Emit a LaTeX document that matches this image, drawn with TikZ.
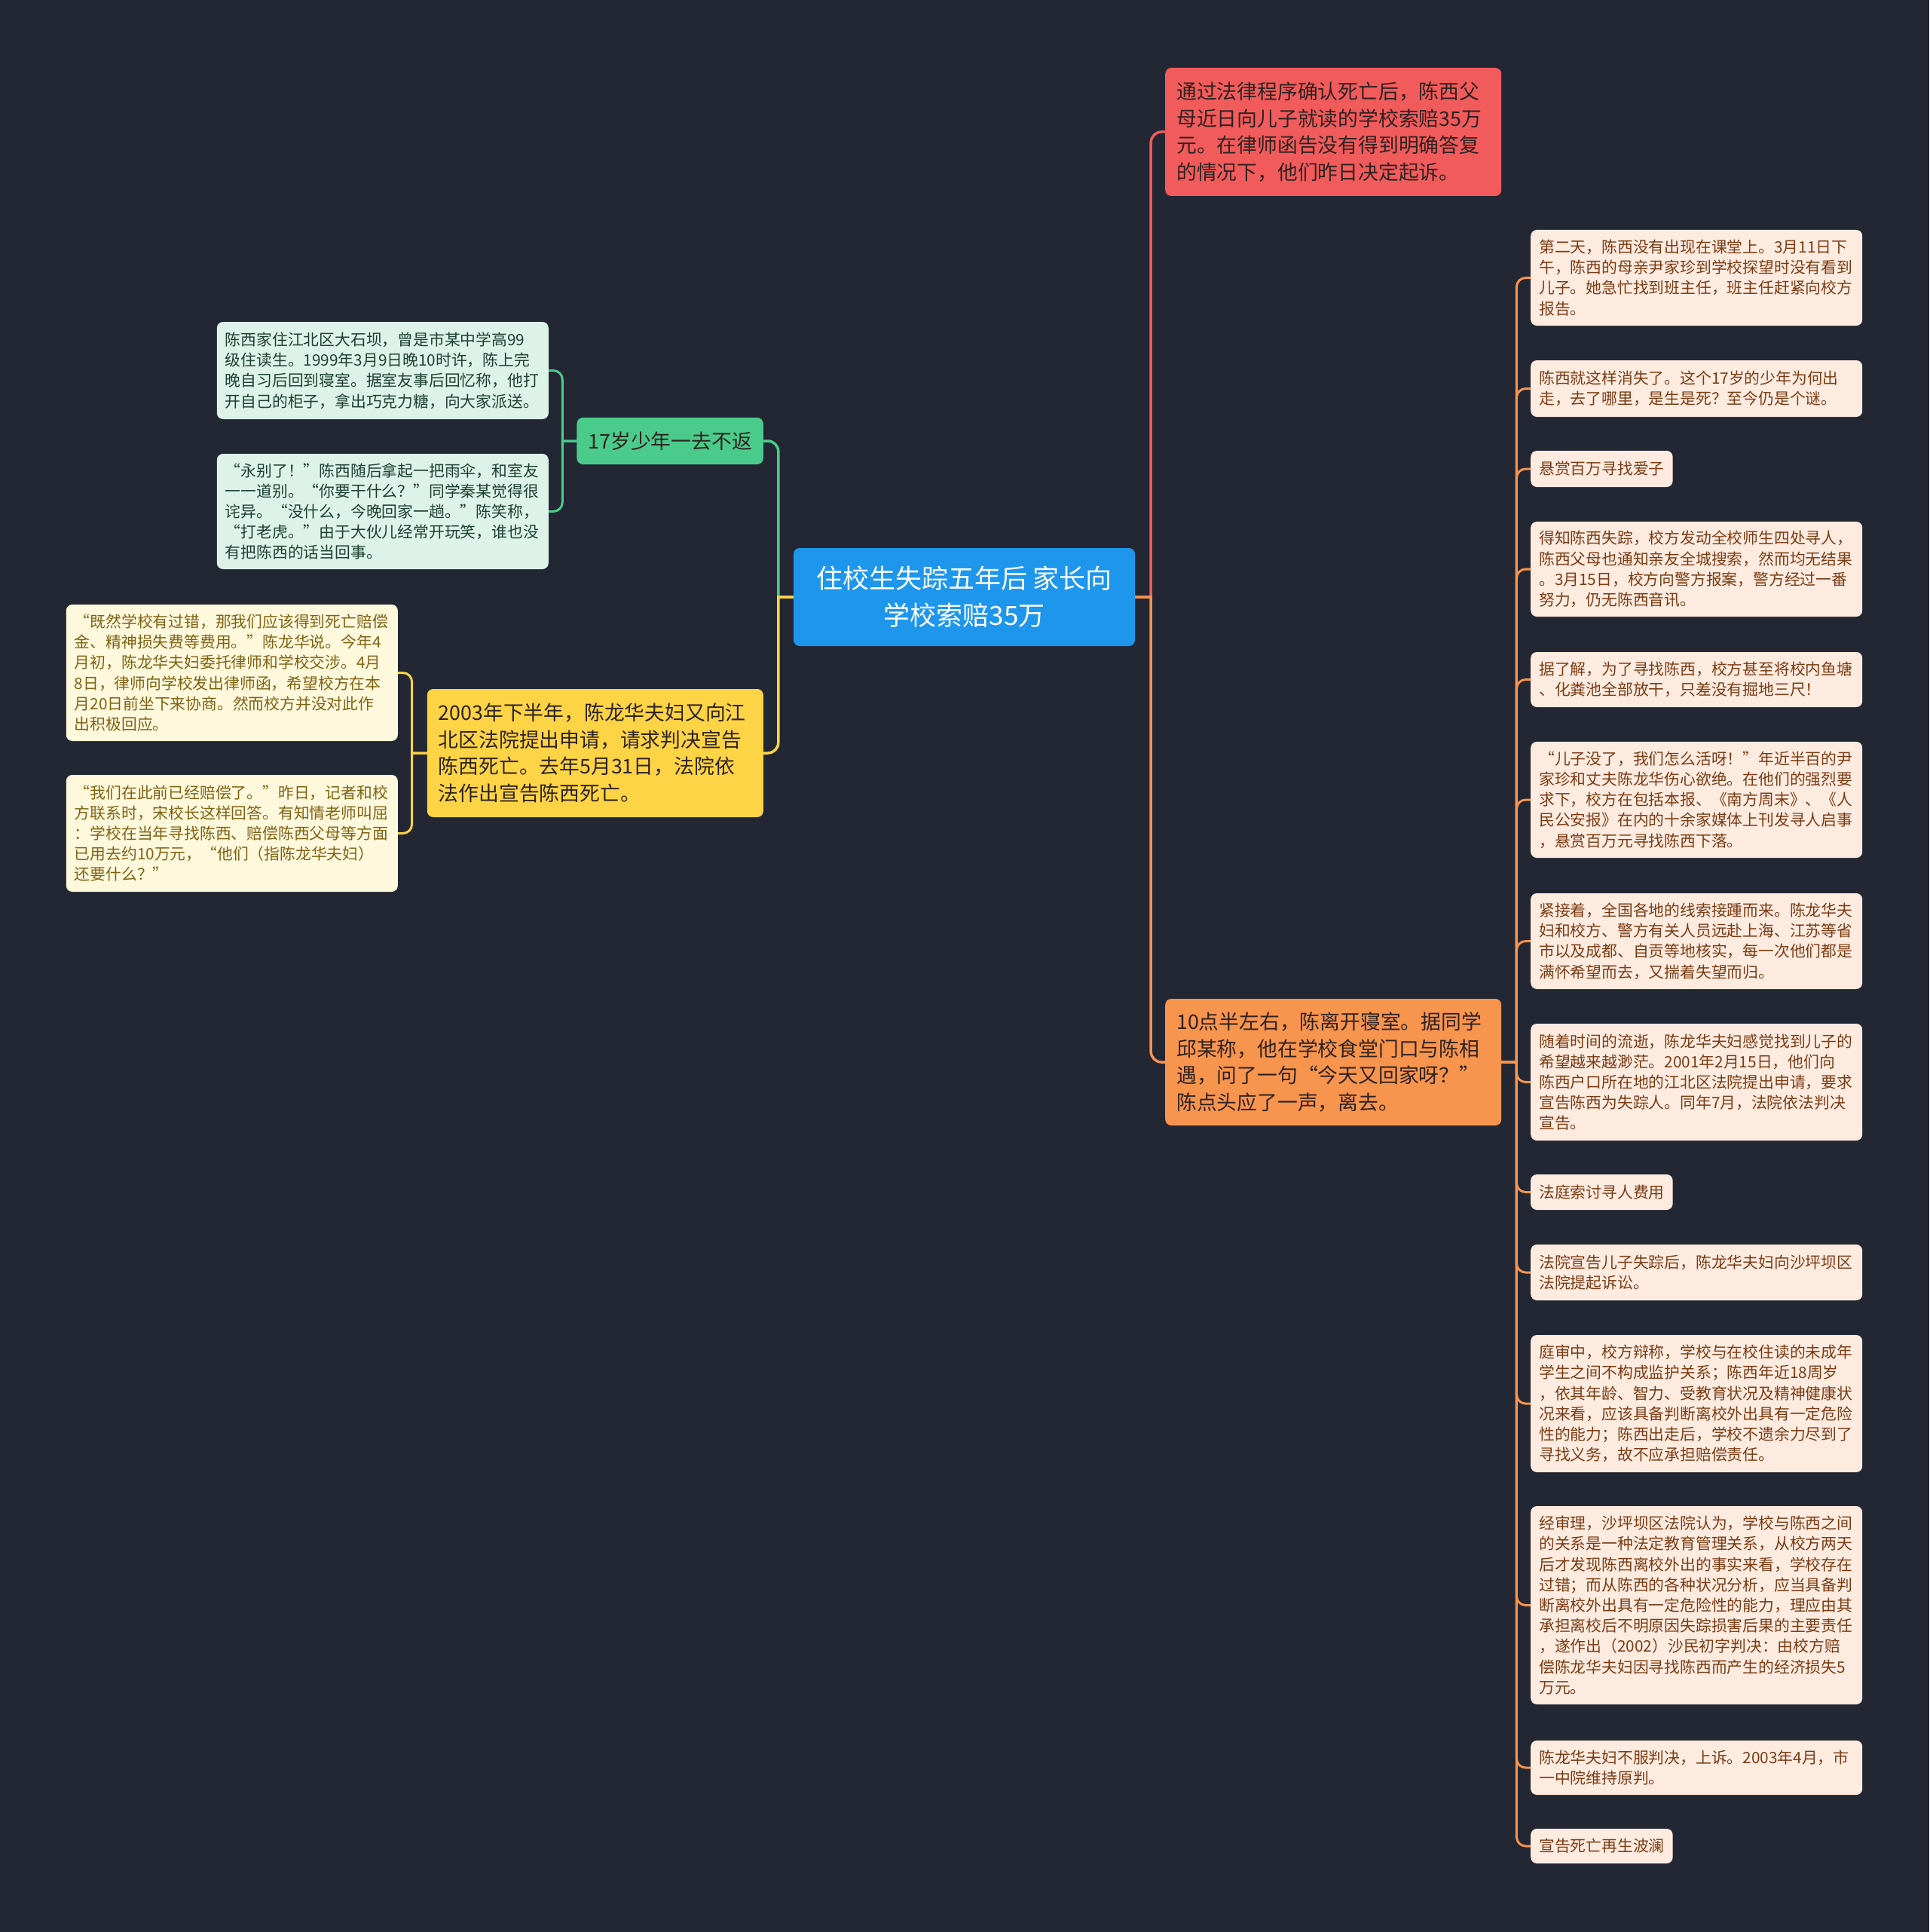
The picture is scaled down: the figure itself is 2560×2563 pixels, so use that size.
\documentclass[tikz,border=0pt]{standalone}
\usepackage{fontspec}
\usepackage{tikz}
\usetikzlibrary{positioning}
\newfontfamily\zhfont{Noto Sans CJK SC}
\definecolor{mmBack}{HTML}{232733}
\definecolor{mmBlue}{HTML}{1D96EC}
\definecolor{mmRed}{HTML}{F15B5C}
\definecolor{mmOrange}{HTML}{F7944E}
\definecolor{mmGreen}{HTML}{4ACB8B}
\definecolor{mmYellow}{HTML}{FDD446}
\definecolor{mmDark}{HTML}{2E2220}
\definecolor{leafGreen}{HTML}{DDF3E9}
\definecolor{inkGreen}{HTML}{1E4032}
\definecolor{leafYellow}{HTML}{FEF8DC}
\definecolor{inkYellow}{HTML}{806214}
\definecolor{leafOrange}{HTML}{FEEBE0}
\definecolor{inkOrange}{HTML}{7A3C14}

\begin{document}
\begin{tikzpicture}[x=1pt, y=-1pt,
    every node/.style={font=\zhfont},
    rootbox/.style={fill=mmBlue, text=white, rounded corners=8pt, align=center,
      minimum width=453pt, minimum height=130pt,
      font=\zhfont\fontsize{35pt}{49pt}\selectfont},
    mainbox/.style={rounded corners=8pt, inner xsep=15pt, inner ysep=6pt, align=left,
      text=mmDark, font=\zhfont\fontsize{26.8pt}{35.6pt}\selectfont},
    mainwide/.style={mainbox, text width=416pt},
    leafbox/.style={rounded corners=8pt, inner xsep=11pt, inner ysep=6pt, align=left,
      font=\zhfont\fontsize{20.8pt}{27.2pt}\selectfont},
    leafwide/.style={leafbox, text width=418pt},
    link/.style={line width=3.5pt},
    twig/.style={line width=3pt}]
  \fill[mmBack] (0,0) rectangle (2560,2563);

  % centre
  \node[rootbox] (root) at (1279.5,792) {住校生失踪五年后 家长向\\学校索赔35万};

  % right side
  \node[mainwide, fill=mmRed, minimum height=170pt, anchor=west] (claim) at (1546,175)
    {通过法律程序确认死亡后，陈西父\\母近日向儿子就读的学校索赔35万\\元。在律师函告没有得到明确答复\\的情况下，他们昨日决定起诉。};
  \node[mainwide, fill=mmOrange, minimum height=168pt, anchor=west] (leave) at (1546,1409)
    {10点半左右，陈离开寝室。据同学\\邱某称，他在学校食堂门口与陈相\\遇，问了一句“今天又回家呀？”\\陈点头应了一声，离去。};

  % left side
  \node[mainbox, fill=mmGreen, minimum height=62pt, anchor=east] (boy) at (1013,585)
    {17岁少年一去不返};
  \node[mainwide, fill=mmYellow, minimum height=170pt, anchor=east] (court) at (1013,999)
    {2003年下半年，陈龙华夫妇又向江\\北区法院提出申请，请求判决宣告\\陈西死亡。去年5月31日，法院依\\法作出宣告陈西死亡。};

  \node[leafwide, fill=leafGreen, text=inkGreen, minimum height=129pt, anchor=east] (g1) at (728,491.5)
    {陈西家住江北区大石坝，曾是市某中学高99\\级住读生。1999年3月9日晚10时许，陈上完\\晚自习后回到寝室。据室友事后回忆称，他打\\开自己的柜子，拿出巧克力糖，向大家派送。};
  \node[leafwide, fill=leafGreen, text=inkGreen, minimum height=153pt, anchor=east] (g2) at (728,678.5)
    {“永别了！”陈西随后拿起一把雨伞，和室友\\一一道别。“你要干什么？”同学秦某觉得很\\诧异。“没什么，今晚回家一趟。”陈笑称，\\“打老虎。”由于大伙儿经常开玩笑，谁也没\\有把陈西的话当回事。};

  \node[leafwide, fill=leafYellow, text=inkYellow, minimum height=181pt, anchor=east] (y1) at (528,892.5)
    {“既然学校有过错，那我们应该得到死亡赔偿\\金、精神损失费等费用。”陈龙华说。今年4\\月初，陈龙华夫妇委托律师和学校交涉。4月\\8日，律师向学校发出律师函，希望校方在本\\月20日前坐下来协商。然而校方并没对此作\\出积极回应。};
  \node[leafwide, fill=leafYellow, text=inkYellow, minimum height=155pt, anchor=east] (y2) at (528,1105.5)
    {“我们在此前已经赔偿了。”昨日，记者和校\\方联系时，宋校长这样回答。有知情老师叫屈\\：学校在当年寻找陈西、赔偿陈西父母等方面\\已用去约10万元，“他们（指陈龙华夫妇）\\还要什么？”};

  % details of the night and after
  \node[leafwide, fill=leafOrange, text=inkOrange, minimum height=127pt, anchor=west] (s1) at (2031,368.5)
    {第二天，陈西没有出现在课堂上。3月11日下\\午，陈西的母亲尹家珍到学校探望时没有看到\\儿子。她急忙找到班主任，班主任赶紧向校方\\报告。};
  \node[leafwide, fill=leafOrange, text=inkOrange, minimum height=75pt, anchor=west] (s2) at (2031,515.5)
    {陈西就这样消失了。这个17岁的少年为何出\\走，去了哪里，是生是死？至今仍是个谜。};
  \node[leafbox, fill=leafOrange, text=inkOrange, minimum height=48pt, anchor=west] (s3) at (2031,622)
    {悬赏百万寻找爱子};
  \node[leafwide, fill=leafOrange, text=inkOrange, minimum height=126pt, anchor=west] (s4) at (2031,755)
    {得知陈西失踪，校方发动全校师生四处寻人，\\陈西父母也通知亲友全城搜索，然而均无结果\\。3月15日，校方向警方报案，警方经过一番\\努力，仍无陈西音讯。};
  \node[leafwide, fill=leafOrange, text=inkOrange, minimum height=73pt, anchor=west] (s5) at (2031,901.5)
    {据了解，为了寻找陈西，校方甚至将校内鱼塘\\、化粪池全部放干，只差没有掘地三尺！};
  \node[leafwide, fill=leafOrange, text=inkOrange, minimum height=154pt, anchor=west] (s6) at (2031,1061)
    {“儿子没了，我们怎么活呀！”年近半百的尹\\家珍和丈夫陈龙华伤心欲绝。在他们的强烈要\\求下，校方在包括本报、《南方周末》、《人\\民公安报》在内的十余家媒体上刊发寻人启事\\，悬赏百万元寻找陈西下落。};
  \node[leafwide, fill=leafOrange, text=inkOrange, minimum height=127pt, anchor=west] (s7) at (2031,1248.5)
    {紧接着，全国各地的线索接踵而来。陈龙华夫\\妇和校方、警方有关人员远赴上海、江苏等省\\市以及成都、自贡等地核实，每一次他们都是\\满怀希望而去，又揣着失望而归。};
  \node[leafwide, fill=leafOrange, text=inkOrange, minimum height=155pt, anchor=west] (s8) at (2031,1435.5)
    {随着时间的流逝，陈龙华夫妇感觉找到儿子的\\希望越来越渺茫。2001年2月15日，他们向\\陈西户口所在地的江北区法院提出申请，要求\\宣告陈西为失踪人。同年7月，法院依法判决\\宣告。};
  \node[leafbox, fill=leafOrange, text=inkOrange, minimum height=47pt, anchor=west] (s9) at (2031,1581.5)
    {法庭索讨寻人费用};
  \node[leafwide, fill=leafOrange, text=inkOrange, minimum height=74pt, anchor=west] (s10) at (2031,1688)
    {法院宣告儿子失踪后，陈龙华夫妇向沙坪坝区\\法院提起诉讼。};
  \node[leafwide, fill=leafOrange, text=inkOrange, minimum height=182pt, anchor=west] (s11) at (2031,1862)
    {庭审中，校方辩称，学校与在校住读的未成年\\学生之间不构成监护关系；陈西年近18周岁\\，依其年龄、智力、受教育状况及精神健康状\\况来看，应该具备判断离校外出具有一定危险\\性的能力；陈西出走后，学校不遗余力尽到了\\寻找义务，故不应承担赔偿责任。};
  \node[leafwide, fill=leafOrange, text=inkOrange, minimum height=263pt, anchor=west] (s12) at (2031,2129.5)
    {经审理，沙坪坝区法院认为，学校与陈西之间\\的关系是一种法定教育管理关系，从校方两天\\后才发现陈西离校外出的事实来看，学校存在\\过错；而从陈西的各种状况分析，应当具备判\\断离校外出具有一定危险性的能力，理应由其\\承担离校后不明原因失踪损害后果的主要责任\\，遂作出（2002）沙民初字判决：由校方赔\\偿陈龙华夫妇因寻找陈西而产生的经济损失5\\万元。};
  \node[leafwide, fill=leafOrange, text=inkOrange, minimum height=72pt, anchor=west] (s13) at (2031,2345)
    {陈龙华夫妇不服判决，上诉。2003年4月，市\\一中院维持原判。};
  \node[leafbox, fill=leafOrange, text=inkOrange, minimum height=46pt, anchor=west] (s14) at (2031,2449)
    {宣告死亡再生波澜};

  % connectors from the centre
  \draw[link, mmRed] (root.east) -- ++(21,0) [rounded corners=14pt] |- (claim.west);
  \draw[link, mmOrange] (root.east) -- ++(21,0) [rounded corners=14pt] |- (leave.west);
  \draw[link, mmGreen] (root.west) -- ++(-20,0) [rounded corners=14pt] |- (boy.east);
  \draw[link, mmYellow] (root.west) -- ++(-20,0) [rounded corners=14pt] |- (court.east);

  \draw[twig, mmGreen] (boy.west) -- ++(-19,0) [rounded corners=12pt] |- (g1.east);
  \draw[twig, mmGreen] (boy.west) -- ++(-19,0) [rounded corners=12pt] |- (g2.east);
  \draw[twig, mmYellow] (court.west) -- ++(-20,0) [rounded corners=12pt] |- (y1.east);
  \draw[twig, mmYellow] (court.west) -- ++(-20,0) [rounded corners=12pt] |- (y2.east);

  \draw[twig, mmOrange] (leave.east) -- ++(20,0) [rounded corners=12pt] |- (s1.west);
  \draw[twig, mmOrange] (leave.east) -- ++(20,0) [rounded corners=12pt] |- (s2.west);
  \draw[twig, mmOrange] (leave.east) -- ++(20,0) [rounded corners=12pt] |- (s3.west);
  \draw[twig, mmOrange] (leave.east) -- ++(20,0) [rounded corners=12pt] |- (s4.west);
  \draw[twig, mmOrange] (leave.east) -- ++(20,0) [rounded corners=12pt] |- (s5.west);
  \draw[twig, mmOrange] (leave.east) -- ++(20,0) [rounded corners=12pt] |- (s6.west);
  \draw[twig, mmOrange] (leave.east) -- ++(20,0) [rounded corners=12pt] |- (s7.west);
  \draw[twig, mmOrange] (leave.east) -- ++(20,0) [rounded corners=12pt] |- (s8.west);
  \draw[twig, mmOrange] (leave.east) -- ++(20,0) [rounded corners=12pt] |- (s9.west);
  \draw[twig, mmOrange] (leave.east) -- ++(20,0) [rounded corners=12pt] |- (s10.west);
  \draw[twig, mmOrange] (leave.east) -- ++(20,0) [rounded corners=12pt] |- (s11.west);
  \draw[twig, mmOrange] (leave.east) -- ++(20,0) [rounded corners=12pt] |- (s12.west);
  \draw[twig, mmOrange] (leave.east) -- ++(20,0) [rounded corners=12pt] |- (s13.west);
  \draw[twig, mmOrange] (leave.east) -- ++(20,0) [rounded corners=12pt] |- (s14.west);
\end{tikzpicture}
\end{document}
